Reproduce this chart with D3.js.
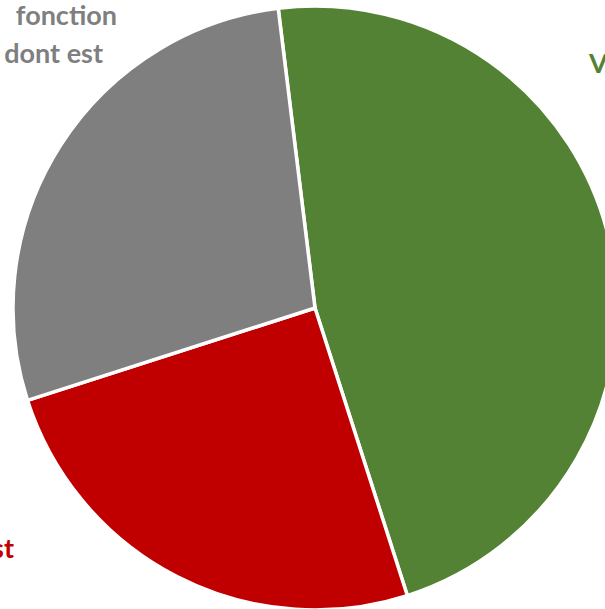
<!DOCTYPE html>
<html><head><meta charset="utf-8">
<script src="https://cdn.jsdelivr.net/npm/d3@7"></script>
<style>html,body{margin:0;padding:0;background:#fff;overflow:hidden}</style>
</head><body>
<svg id="chart" width="605" height="609"></svg>
<script>
const categories = ["Vacants", "Agents dont est", "Agents en fonction dont est"];
const values = [47, 25, 28];
const colors = ["#548235", "#c00000", "#7f7f7f"];
const labelLines = [["V"], ["st"], ["fonction", "dont est"]];

const svg = d3.select("#chart");
const cx = 315, cy = 308, r = 302;
const g = svg.append("g").attr("transform", `translate(${cx},${cy})`);
const startDeg = -7;
const pie = d3.pie().sort(null).value(d => d)
  .startAngle(startDeg * Math.PI / 180)
  .endAngle((startDeg + 360) * Math.PI / 180);
const arc = d3.arc().innerRadius(0).outerRadius(r);
g.selectAll("path").data(pie(values)).join("path")
  .attr("d", arc)
  .attr("fill", (d, i) => colors[i])
  .attr("stroke", "#fff")
  .attr("stroke-width", 3.5)
  .attr("stroke-linejoin", "round");

const font = "Lato, 'Open Sans', sans-serif";
// label placements per line (anchor end/start so text clips like reference)
const lp = [
  [{x: 589, y: 73, anchor: "start"}],
  [{x: 14, y: 558, anchor: "end"}],
  [{x: 117, y: 25, anchor: "end"}, {x: 103, y: 63, anchor: "end"}]
];
labelLines.forEach((lines, i) => {
  lines.forEach((ln, j) => {
    svg.append("text")
      .attr("x", lp[i][j].x).attr("y", lp[i][j].y)
      .attr("text-anchor", lp[i][j].anchor)
      .attr("fill", colors[i])
      .attr("font-family", font)
      .attr("font-weight", "bold")
      .attr("font-size", 27)
      .text(ln);
  });
});
</script>
</body></html>
